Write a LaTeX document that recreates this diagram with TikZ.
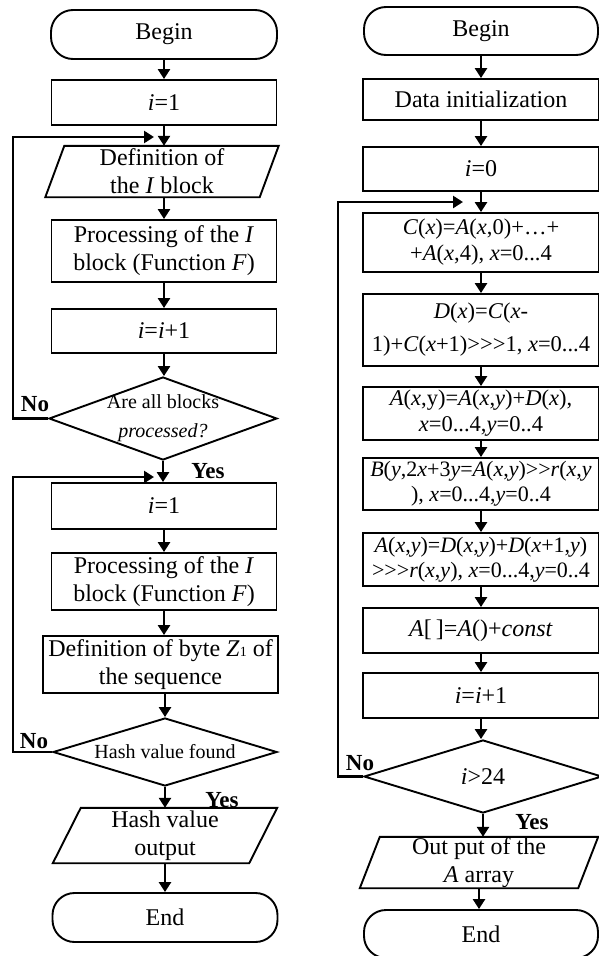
\documentclass[tikz,border=0pt]{standalone}
\usepackage{fontspec}
\setmainfont{Liberation Serif}
\usetikzlibrary{arrows.meta,shapes.geometric}
\newcommand\vv[1]{\textit{#1}}
\newcommand\paradraw[2]{\draw[line width=1.9pt] ([xshift=#2]#1.north west) -- (#1.north east) -- ([xshift=-#2]#1.south east) -- (#1.south west) -- cycle;}
\begin{document}
\begin{tikzpicture}[x=1pt,y=-1pt,
  box/.style={draw,line width=1.9pt,rectangle,inner sep=0pt,align=center,font=\fontsize{24}{28}\selectfont},
  fbox/.style={box,font=\fontsize{22.5}{26}\selectfont},
  term/.style={box,rounded corners=22pt},
  plain/.style={rectangle,inner sep=0pt,align=center,font=\fontsize{24}{28}\selectfont},
  dia/.style={draw,line width=1.9pt,diamond,inner sep=0pt},
  dtext/.style={inner sep=0pt,align=center,font=\fontsize{20}{29}\selectfont},
  lab/.style={inner sep=0pt,font=\fontsize{23}{23}\selectfont\bfseries},
  arr/.style={line width=2.8pt,-{Triangle[length=10pt,width=12pt]}},
]
\useasboundingbox (0,0) rectangle (598,956);
% ---------------- left column
\node[term,minimum width=226pt,minimum height=49pt] (lb) at (164,34.5) {Begin};
\node[box,minimum width=225pt,minimum height=45pt] (l1) at (164,102.5) {\vv{i}=1};
\node[plain,minimum width=233pt,minimum height=51pt] (lp1) at (162,171.5) {Definition of\\the \vv{I} block};
\paradraw{lp1}{19pt}
\node[box,minimum width=225pt,minimum height=62pt] (l2) at (164,251) {Processing of the \vv{I}\\block (Function \vv{F})};
\node[box,minimum width=225pt,minimum height=44pt] (l3) at (164,331) {\vv{i}=\vv{i}+1};
\node[dia,minimum width=228pt,minimum height=83pt] (ld1) at (163,418.5) {};
\node[dtext] (ld1t) at (ld1) {Are all blocks\\\vv{processed?}};
\node[box,minimum width=225pt,minimum height=46pt] (l4) at (164,506) {\vv{i}=1};
\node[box,minimum width=225pt,minimum height=57pt] (l5) at (164,581.5) {Processing of the \vv{I}\\block (Function \vv{F})};
\node[box,minimum width=235pt,minimum height=57pt] (l6) at (160.5,664.5) {Definition of byte \vv{Z}{\fontsize{14}{14}\selectfont 1} of\\the sequence};
\node[dia,minimum width=224pt,minimum height=68pt] (ld2) at (165,752) {};
\node[dtext] (ld2t) at (ld2) {Hash value found};
\node[plain,minimum width=224pt,minimum height=55pt] (lp2) at (165,835.5) {Hash value\\output};
\paradraw{lp2}{28pt}
\node[term,minimum width=225pt,minimum height=49pt] (le) at (165,917.5) {End};

\draw[arr] (lb.south) -- (lb.south |- l1.north);
\draw[arr] (l1.south) -- (l1.south |- lp1.north);
\draw[arr] (l2.north |- lp1.south) -- (l2.north);
\draw[arr] (l2.south) -- (l2.south |- l3.north);
\draw[arr] (l3.south) -- (l3.south |- ld1.north);
\draw[arr] (ld1.south) -- (ld1.south |- l4.north);
\draw[arr] (l4.south) -- (l4.south |- l5.north);
\draw[arr] (l5.south) -- (l5.south |- l6.north);
\draw[arr] (ld2.north |- l6.south) -- (ld2.north);
\draw[arr] (ld2.south) -- (ld2.south |- lp2.north);
\draw[arr] (lp2.south) -- (lp2.south |- le.north);

\coordinate (la) at (13,137);
\coordinate (lat) at (154,137);
\draw[arr] (ld1.west) -| (la) -- (lat);
\coordinate (lc) at (13,477);
\coordinate (lct) at (154,477);
\draw[arr] (ld2.west) -| (lc) -- (lct);

\node[lab] (lno1) at (35,404) {No};
\node[lab] (lyes1) at (208,471) {Yes};
\node[lab] (lno2) at (34,741) {No};
\node[lab] (lyes2) at (222,800) {Yes};

% ---------------- right column
\node[term,minimum width=234pt,minimum height=48pt] (rb) at (481,31) {Begin};
\node[box,minimum width=236pt,minimum height=41pt] (r1) at (481,99.5) {Data initialization};
\node[box,minimum width=236pt,minimum height=44pt] (r2) at (481,169) {\vv{i}=0};
\node[fbox,minimum width=236pt,minimum height=59pt] (r3) at (481,242.5) {\vv{C}(\vv{x})=\vv{A}(\vv{x},0)+…+\\+\vv{A}(\vv{x},4), \vv{x}=0...4};
\node[fbox,minimum width=236pt,minimum height=72pt,font=\fontsize{22.5}{33}\selectfont] (r4) at (481,330) {\vv{D}(\vv{x})=\vv{C}(\vv{x}-\\1)+\vv{C}(\vv{x}+1)>{}>{}>1, \vv{x}=0...4};
\node[fbox,minimum width=236pt,minimum height=53pt] (r5) at (481,413.5) {\vv{A}(\vv{x},y)=\vv{A}(\vv{x},\vv{y})+\vv{D}(\vv{x}),\\\vv{x}=0...4,\vv{y}=0..4};
\node[fbox,minimum width=236pt,minimum height=52pt,font=\fontsize{22}{25}\selectfont] (r6) at (481,484) {\vv{B}(\vv{y},2\vv{x}+3\vv{y}=\vv{A}(\vv{x},\vv{y})>{}>\vv{r}(\vv{x},\vv{y}\\), \vv{x}=0...4,\vv{y}=0..4};
\node[fbox,minimum width=236pt,minimum height=53pt,font=\fontsize{22}{25}\selectfont] (r7) at (481,559.5) {\vv{A}(\vv{x},\vv{y})=\vv{D}(\vv{x},\vv{y})+\vv{D}(\vv{x}+1,\vv{y})\\>{}>{}>\vv{r}(\vv{x},\vv{y}), \vv{x}=0...4,\vv{y}=0..4};
\node[box,minimum width=236pt,minimum height=45pt] (r8) at (481,630.5) {\vv{A}[\,]=\vv{A}()+\vv{const}};
\node[box,minimum width=236pt,minimum height=45pt] (r9) at (481,695.5) {\vv{i}=\vv{i}+1};
\node[dia,minimum width=238pt,minimum height=73pt] (rd) at (483,776.5) {};
\node[dtext,font=\fontsize{24}{28}\selectfont] (rdt) at (rd) {\vv{i}>24};
\node[plain,minimum width=238pt,minimum height=51pt] (rp) at (479,862.5) {Out put of the\\\vv{A} array};
\paradraw{rp}{20pt}
\node[term,minimum width=234pt,minimum height=48pt] (re) at (481,934) {End};

\draw[arr] (rb.south) -- (rb.south |- r1.north);
\draw[arr] (r1.south) -- (r1.south |- r2.north);
\draw[arr] (r2.south) -- (r2.south |- r3.north);
\draw[arr] (r3.south) -- (r3.south |- r4.north);
\draw[arr] (r4.south) -- (r4.south |- r5.north);
\draw[arr] (r5.south) -- (r5.south |- r6.north);
\draw[arr] (r6.south) -- (r6.south |- r7.north);
\draw[arr] (r7.south) -- (r7.south |- r8.north);
\draw[arr] (r8.south) -- (r8.south |- r9.north);
\draw[arr] (r9.south) -- (r9.south |- rd.north);
\draw[arr] (rd.south) -- (rd.south |- rp.north);
\draw[arr] (rp.south) -- (rp.south |- re.north);

\coordinate (ra) at (338,202);
\coordinate (rat) at (463,202);
\draw[arr] (rd.west) -| (ra) -- (rat);

\node[lab] (rno) at (360,763) {No};
\node[lab] (ryes) at (532,822) {Yes};
\end{tikzpicture}
\end{document}
